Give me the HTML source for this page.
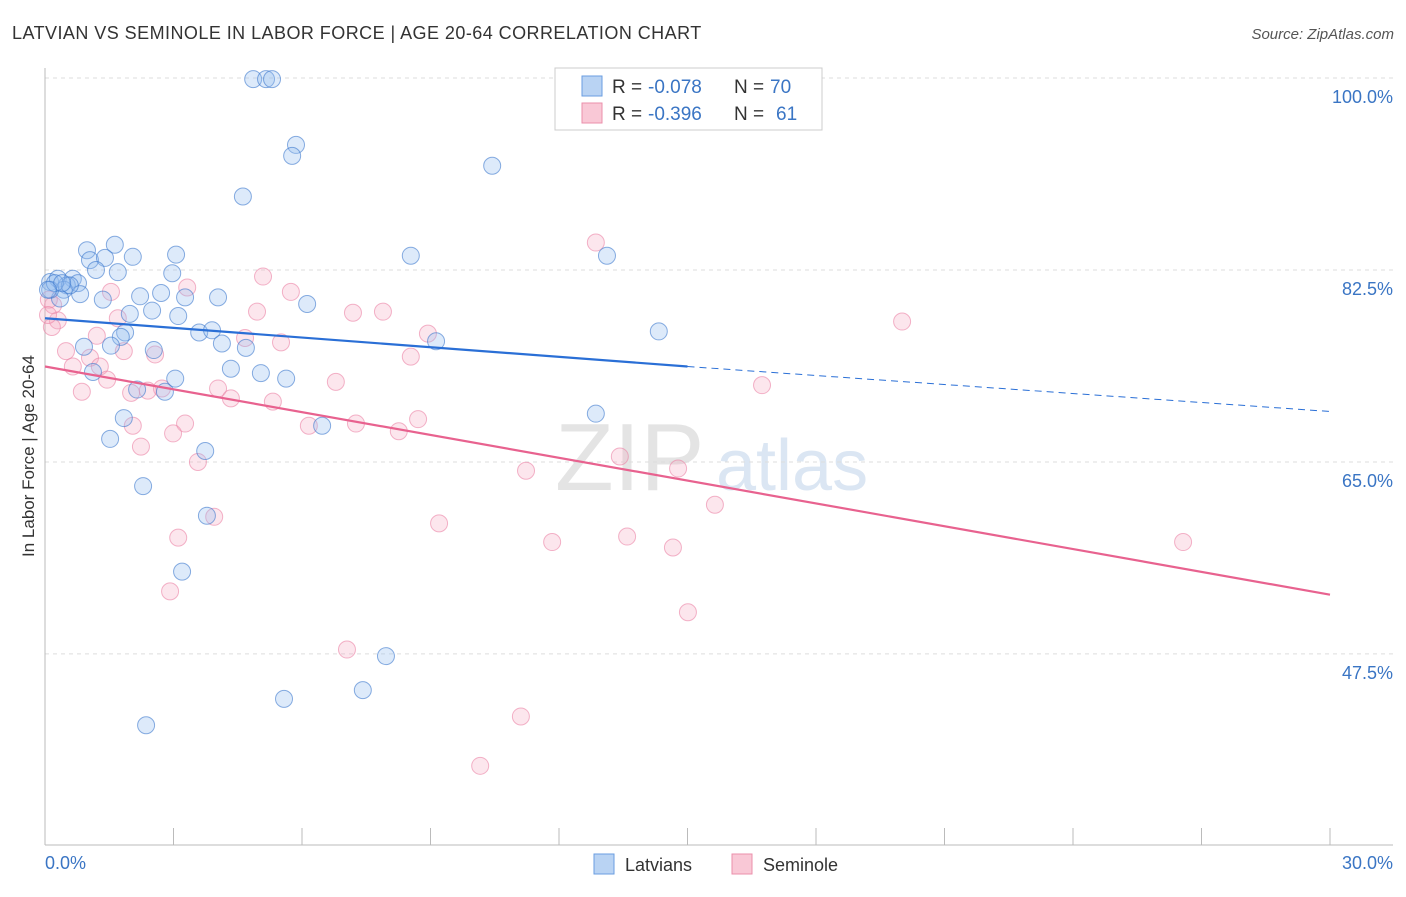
<!DOCTYPE html>
<html><head><meta charset="utf-8"><style>
body{margin:0;background:#fff;font-family:"Liberation Sans",sans-serif}
svg text{font-family:"Liberation Sans",sans-serif}
</style></head><body>
<svg id="c" width="1406" height="892" xmlns="http://www.w3.org/2000/svg">
<text x="12" y="39" font-size="18" fill="#333" letter-spacing="0.45">LATVIAN VS SEMINOLE IN LABOR FORCE | AGE 20-64 CORRELATION CHART</text>
<text x="1394" y="39" font-size="15" fill="#555" font-style="italic" text-anchor="end">Source: ZipAtlas.com</text>
<text x="555" y="490" font-size="96" fill="#e4e4e4" font-family="Liberation Serif">ZIP</text>
<text x="716" y="490" font-size="72" fill="#dbe6f3">atlas</text>
<g id="grid"></g><g id="axes"></g><g id="pts"></g><g id="trend"></g>
<text x="34" y="456" font-size="17" fill="#333" transform="rotate(-90 34 456)" text-anchor="middle">In Labor Force | Age 20-64</text>
<text x="45" y="869" font-size="18" fill="#3a75c4">0.0%</text>
<text x="1393" y="869" font-size="18" fill="#3a75c4" text-anchor="end">30.0%</text>
<g>
<rect x="555" y="68" width="267" height="62" fill="#fff" stroke="#ccc"/>
<rect x="582" y="76" width="20" height="20" fill="#b9d3f3" stroke="#6a9ee0"/>
<rect x="582" y="103" width="20" height="20" fill="#f9c8d6" stroke="#eb8fab"/>
<text x="612" y="93" font-size="19" fill="#333">R =</text>
<text x="648" y="93" font-size="19" fill="#3a75c4">-0.078</text>
<text x="734" y="93" font-size="19" fill="#333">N =</text>
<text x="770" y="93" font-size="19" fill="#3a75c4">70</text>
<text x="612" y="120" font-size="19" fill="#333">R =</text>
<text x="648" y="120" font-size="19" fill="#3a75c4">-0.396</text>
<text x="734" y="120" font-size="19" fill="#333">N =</text>
<text x="776" y="120" font-size="19" fill="#3a75c4">61</text>
</g>
<g>
<rect x="594" y="854" width="20" height="20" fill="#b9d3f3" stroke="#6a9ee0"/>
<text x="625" y="871" font-size="18" fill="#333">Latvians</text>
<rect x="732" y="854" width="20" height="20" fill="#f9c8d6" stroke="#eb8fab"/>
<text x="763" y="871" font-size="18" fill="#333">Seminole</text>
</g>
</svg>
<script>
const yTicks=[100,82.5,65,47.5];
const xTicks=[3,6,9,12,15,18,21,24,27,30];
const latX=[4.86,5.16,5.30,5.86,5.77,10.44,4.62,0.98,1.63,3.06,2.05,1.05,1.40,1.19,1.70,2.97,0.12,0.30,0.65,0.51,0.77,0.44,0.35,0.82,2.22,2.71,3.27,4.04,6.12,1.35,1.98,2.50,3.11,8.54,13.12,3.60,3.90,1.87,1.77,14.33,9.13,4.13,4.69,0.91,1.54,2.54,1.12,4.34,5.04,5.63,3.04,2.15,2.80,1.84,12.86,6.47,1.52,3.74,2.29,3.78,3.20,7.96,7.42,5.58,2.36,0.12,0.58,0.23,0.40,0.07];
const latY=[99.9,99.9,99.9,93.9,92.9,92.0,89.2,84.3,84.8,83.9,83.7,83.4,83.6,82.5,82.3,82.2,81.4,81.7,81.7,81.1,81.3,80.7,79.9,80.3,80.1,80.4,80.0,80.0,79.4,79.8,78.5,78.8,78.3,83.8,83.8,76.8,77.0,76.8,76.4,76.9,76.0,75.8,75.4,75.5,75.6,75.2,73.2,73.5,73.1,72.6,72.6,71.6,71.4,69.0,69.4,68.3,67.1,66.0,62.8,60.1,55.0,47.3,44.2,43.4,41.0,80.7,81.1,81.3,81.3,80.7];
const semX=[12.86,5.09,5.74,1.54,3.32,20.01,7.19,7.89,4.95,0.30,1.70,0.16,1.21,4.67,8.94,5.51,0.49,1.84,2.57,1.05,8.54,0.65,1.28,6.79,16.74,1.45,4.04,2.73,0.86,2.01,2.40,4.34,5.32,8.71,7.26,3.27,2.05,6.16,2.99,8.26,2.24,3.57,13.42,11.23,14.78,15.64,3.95,9.20,3.11,13.59,11.84,14.66,26.57,2.92,15.01,7.05,11.11,10.16,0.19,0.09,0.07];
const semY=[85.0,81.9,80.5,80.5,80.9,77.8,78.6,78.7,78.7,77.9,78.1,77.3,76.5,76.3,76.7,75.9,75.1,75.1,74.8,74.5,74.6,73.7,73.7,72.3,72.0,72.5,71.7,71.7,71.4,71.3,71.5,70.8,70.5,68.9,68.5,68.5,68.3,68.3,67.6,67.8,66.4,65.0,65.5,64.2,64.4,61.1,60.0,59.4,58.1,58.2,57.7,57.2,57.7,53.2,51.3,47.9,41.8,37.3,79.3,79.8,78.4];
const latTrend=[78.1,73.7,69.6];
const semTrend=[73.7,52.9];
const NS="http://www.w3.org/2000/svg";
const X=v=>45+v/30*1285, Y=v=>78+(100-v)*10.97;
function mk(t,a,p){const e=document.createElementNS(NS,t);for(const k in a)e.setAttribute(k,a[k]);p.appendChild(e);return e;}
const grid=document.getElementById('grid'),axes=document.getElementById('axes');
yTicks.forEach(v=>{
 const l=mk('line',{x1:45,x2:1393,y1:Y(v),y2:Y(v),stroke:'#ddd','stroke-dasharray':'4,4'},grid);
 
 
 const t=mk('text',{x:1393,y:Y(v)+25,'font-size':18,fill:'#3a75c4','text-anchor':'end'},grid);
 t.textContent=v.toFixed(1)+'%';
 
 
});
let a=mk('line',{x1:45,x2:45,y1:68,y2:845,stroke:'#bbb'},axes);


a=mk('line',{x1:45,x2:1393,y1:845,y2:845,stroke:'#bbb'},axes);


xTicks.forEach(v=>{
 const l=mk('line',{x1:X(v),x2:X(v),y1:828,y2:845,stroke:'#bbb'},axes);
 
 
});
const pts=document.getElementById('pts');
semX.forEach((x,i)=>{
 const c=mk('circle',{cx:X(x),cy:Y(semY[i]),r:8.5,fill:'rgba(244,166,190,0.28)',stroke:'rgba(235,130,165,0.6)','stroke-width':1},pts);
 
 
});
latX.forEach((x,i)=>{
 const c=mk('circle',{cx:X(x),cy:Y(latY[i]),r:8.5,fill:'rgba(150,190,238,0.32)',stroke:'rgba(60,120,205,0.6)','stroke-width':1},pts);
 
 
});
const tr=document.getElementById('trend');
let l=mk('line',{x1:X(0),y1:Y(latTrend[0]),x2:X(15),y2:Y(latTrend[1]),stroke:'#2a6fd6','stroke-width':2.2},tr);


l=mk('line',{x1:X(15),y1:Y(latTrend[1]),x2:X(30),y2:Y(latTrend[2]),stroke:'#2a6fd6','stroke-width':1,'stroke-dasharray':'7,5'},tr);


l=mk('line',{x1:X(0),y1:Y(semTrend[0]),x2:X(30),y2:Y(semTrend[1]),stroke:'#e8628f','stroke-width':2.2},tr);


</script>
</body></html>
